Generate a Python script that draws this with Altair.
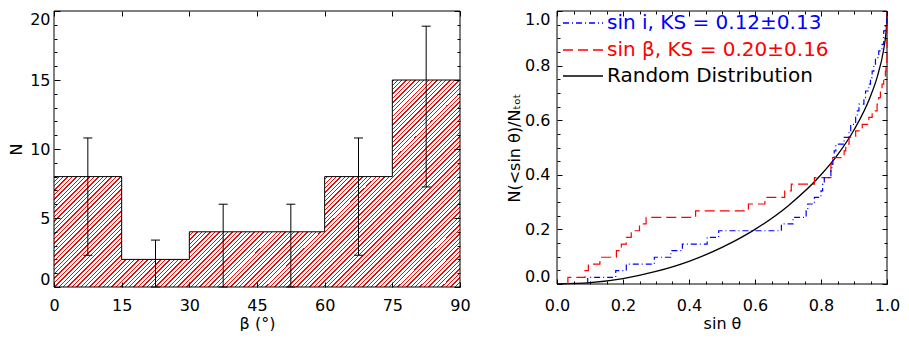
import altair as alt
import pandas as pd

FONT = "DejaVu Sans"

# ---------------- left panel data (histogram of beta) ----------------
beta_edges = [0, 15, 30, 45, 60, 75, 90]
beta_counts = [8, 2, 4, 4, 8, 15]
err_x = [7.5, 22.5, 37.5, 52.5, 67.5, 82.5]
err_lo = [2.3, 0.0, 0.0, 0.0, 2.3, 7.25]
err_hi = [10.8, 3.4, 6.0, 6.0, 10.8, 18.9]
left_x_major = [0, 15, 30, 45, 60, 75, 90]
left_y_major = [0, 5, 10, 15, 20]
left_y_minor = [1, 2, 3, 4, 6, 7, 8, 9, 11, 12, 13, 14, 16, 17, 18, 19]

# ---------------- right panel data (cumulative distributions) ----------------
red_s = [0.033, 0.033, 0.085, 0.095, 0.13, 0.18, 0.195, 0.21, 0.225, 0.25, 0.27,
         0.42, 0.58, 0.63, 0.69, 0.71, 0.78, 0.83, 0.835, 0.87, 0.875, 0.885,
         0.905, 0.925, 0.945, 0.955, 0.97, 0.975, 0.98, 0.985, 0.99, 0.995, 0.997, 1.0]
red_n = [0.0, 0.024, 0.049, 0.073, 0.098, 0.122, 0.146, 0.171, 0.195, 0.220, 0.244,
         0.268, 0.293, 0.317, 0.341, 0.366, 0.390, 0.439, 0.463, 0.488, 0.512, 0.537,
         0.561, 0.585, 0.610, 0.634, 0.659, 0.683, 0.707, 0.732, 0.756, 0.780, 0.805, 1.0]
blue_s = [0.093, 0.093, 0.178, 0.21, 0.295, 0.345, 0.38, 0.455, 0.49, 0.68, 0.715,
          0.755, 0.76, 0.78, 0.80, 0.805, 0.81, 0.83, 0.833, 0.836, 0.84, 0.845,
          0.87, 0.885, 0.89, 0.905, 0.91, 0.915, 0.93, 0.935, 0.945, 0.95, 0.955,
          0.96, 0.965, 0.975, 0.985, 0.99, 0.995, 1.0]
blue_n = [0.0, 0.024, 0.049, 0.073, 0.098, 0.122, 0.146, 0.171, 0.195, 0.220, 0.244,
          0.268, 0.293, 0.317, 0.341, 0.366, 0.390, 0.415, 0.439, 0.463, 0.488, 0.512,
          0.537, 0.561, 0.585, 0.610, 0.634, 0.659, 0.683, 0.707, 0.732, 0.756, 0.780,
          0.805, 0.829, 0.854, 0.878, 0.927, 0.951, 1.0]
rand_s = [0.0, 0.1, 0.2, 0.3, 0.4, 0.5, 0.6, 0.7, 0.8, 0.85, 0.9, 0.95, 0.97, 0.99, 0.995, 0.999, 1.0]
rand_n = [0.0, 0.005, 0.020, 0.046, 0.083, 0.134, 0.200, 0.286, 0.400, 0.473, 0.564, 0.688,
          0.757, 0.859, 0.900, 0.955, 1.0]
right_major = [0.0, 0.2, 0.4, 0.6, 0.8, 1.0]
right_minor = [0.05, 0.1, 0.15, 0.25, 0.3, 0.35, 0.45, 0.5, 0.55, 0.65, 0.7, 0.75, 0.85, 0.9, 0.95]
legend_labels = ["sin i, KS = 0.12±0.13", "sin β, KS = 0.20±0.16", "Random Distribution"]
legend_colors = ["#0000ff", "#ff0000", "#000000"]
legend_dashes = [[6, 3, 1, 3], [10, 5], None]

# ---------------- layout / style ----------------
LW, LH = 406, 276
RW, RH = 330, 273
HATCH = "#ff0000"
FS = 16


def axis_lab(orient, values, title, tick, lpad, tpad, fmt, flush):
    return alt.Axis(orient=orient, values=values, title=title, format=fmt,
                    offset=-tick, tickSize=tick, tickColor="black", tickWidth=1,
                    domain=False, grid=False, labels=True, labelFont=FONT,
                    labelFontSize=FS, labelColor="black", labelPadding=lpad,
                    labelFlush=flush, labelAngle=0, labelOverlap=False,
                    titleFont=FONT, titleFontSize=FS, titleFontWeight="normal",
                    titleColor="black", titlePadding=tpad, minExtent=0, zindex=1)


def axis_tick(orient, values, tick, offset):
    # inward-pointing tick marks: the axis line is pushed into the plot by `offset`
    return alt.Axis(orient=orient, values=values, title=None, offset=offset,
                    tickSize=tick, tickColor="black", tickWidth=1, domain=False,
                    grid=False, labels=False, minExtent=0, zindex=1)


# hatch pattern made from a striped linear gradient over the histogram bbox
H_area = max(beta_counts) / 20 * LH
W_area = LW
r = H_area / W_area
k = (1 + r) / (1 + r * r)
span = W_area + H_area
period, lw = 4.4, 1.3
stops = []
pos = 0.0
while pos < span:
    a = pos / span
    b = min((pos + lw) / span, 1.0)
    stops += [alt.GradientStop(color="white", offset=a), alt.GradientStop(color=HATCH, offset=a),
              alt.GradientStop(color=HATCH, offset=b), alt.GradientStop(color="white", offset=b)]
    pos += period
grad = alt.LinearGradient(gradient="linear", stops=stops, x1=0, y1=0, x2=k, y2=k * r)

# ---------------- left panel ----------------
hist = pd.DataFrame({"beta": beta_edges, "n": beta_counts + [beta_counts[-1]]})
errd = pd.DataFrame({"x": err_x, "lo": err_lo, "hi": err_hi})
capd = pd.DataFrame({"x": err_x + err_x, "y": err_lo + err_hi})
one = pd.DataFrame({"a": [0]})

lxs = alt.Scale(domain=[0, 90], nice=False, zero=False)
lys = alt.Scale(domain=[0, 20], nice=False)

area = alt.Chart(hist).mark_area(interpolate="step-after", fill=grad, opacity=1).encode(
    x=alt.X("beta:Q", scale=lxs, axis=axis_lab("bottom", left_x_major, "β (°)", 5, 10, 2, "d", False)),
    y=alt.Y("n:Q", scale=lys, axis=axis_lab("left", left_y_major, "N", 6, 4, 5, "d", True)),
)
frame_l = alt.Chart(one).mark_rect(filled=False, stroke="black", strokeWidth=1).encode(
    x=alt.value(0), x2=alt.value(LW), y=alt.value(0), y2=alt.value(LH))
outline = alt.Chart(hist).mark_line(interpolate="step-after", color="black", strokeWidth=1).encode(
    x=alt.X("beta:Q", scale=lxs, axis=axis_tick("bottom", left_x_major, 5, -LH)),
    y=alt.Y("n:Q", scale=lys, axis=axis_tick("left", left_y_major, 6, -LW)),
)
rules = alt.Chart(errd).mark_rule(color="black", strokeWidth=1).encode(
    x=alt.X("x:Q", scale=lxs, axis=None),
    y=alt.Y("lo:Q", scale=lys, axis=axis_tick("left", left_y_minor, 3, -3)),
    y2="hi:Q",
)
caps = alt.Chart(capd).mark_tick(orient="horizontal", size=9, thickness=1, color="black", opacity=1).encode(
    x=alt.X("x:Q", scale=lxs, axis=None),
    y=alt.Y("y:Q", scale=lys, axis=axis_tick("left", left_y_minor, 3, -LW)),
)
left = alt.layer(area, frame_l, outline, rules, caps).resolve_axis(
    x="independent", y="independent").properties(width=LW, height=LH)

# ---------------- right panel ----------------
df_rand = pd.DataFrame({"s": rand_s, "n": rand_n})
df_red = pd.DataFrame({"s": red_s, "n": red_n, "i": list(range(len(red_s)))})
df_blue = pd.DataFrame({"s": blue_s, "n": blue_n, "i": list(range(len(blue_s)))})

rxs = alt.Scale(domain=[0, 1], nice=False, zero=False)
rys = alt.Scale(domain=[0, 1], nice=False, zero=False)

frame_r = alt.Chart(one).mark_rect(filled=False, stroke="black", strokeWidth=1).encode(
    x=alt.value(0), x2=alt.value(RW), y=alt.value(0), y2=alt.value(RH))
black = alt.Chart(df_rand).mark_line(interpolate="monotone", color="black", strokeWidth=1.3).encode(
    x=alt.X("s:Q", scale=rxs, axis=axis_lab("bottom", right_major, "sin θ", 5, 13, 2, ".1f", False)),
    y=alt.Y("n:Q", scale=rys, axis=axis_lab("left", right_major, "N(<sin θ)/Nₜₒₜ", 5, 7, 2, ".1f", True)),
)
red = alt.Chart(df_red).mark_line(interpolate="step-after", color="#ff0000", strokeWidth=1.2,
                                  strokeDash=[10, 5]).encode(
    x=alt.X("s:Q", scale=rxs, axis=axis_tick("bottom", right_minor, 3, -3)),
    y=alt.Y("n:Q", scale=rys, axis=axis_tick("left", right_minor, 3, -3)),
    order="i:Q",
)
blue = alt.Chart(df_blue).mark_line(interpolate="step-after", color="#0000ff", strokeWidth=1.2,
                                    strokeDash=[6, 3, 1, 3]).encode(
    x=alt.X("s:Q", scale=rxs, axis=axis_tick("bottom", right_major, 5, -RH)),
    y=alt.Y("n:Q", scale=rys, axis=axis_tick("left", right_major, 5, -RW)),
    order="i:Q",
)
hidden = alt.Chart(df_rand).mark_point(opacity=0).encode(
    x=alt.X("s:Q", scale=rxs, axis=axis_tick("bottom", right_minor, 3, -RH)),
    y=alt.Y("n:Q", scale=rys, axis=axis_tick("left", right_minor, 3, -RW)),
)

legend_layers = []
for i, (lab, col, dash) in enumerate(zip(legend_labels, legend_colors, legend_dashes)):
    yy = 12 + 27 * i if i < 2 else 65
    rk = dict(color=col, strokeWidth=1.5)
    if dash:
        rk["strokeDash"] = dash
    legend_layers.append(alt.Chart(one).mark_rule(**rk).encode(
        x=alt.value(6), x2=alt.value(46), y=alt.value(yy)))
    legend_layers.append(alt.Chart(one).mark_text(align="left", baseline="middle", font=FONT,
                                                  fontSize=20, color=col).encode(
        x=alt.value(50), y=alt.value(yy), text=alt.value(lab)))

right = alt.layer(frame_r, black, red, blue, hidden, *legend_layers).resolve_axis(
    x="independent", y="independent").properties(width=RW, height=RH)

chart = alt.hconcat(left, right, spacing=97, bounds="flush",
                    padding={"left": 0, "top": 0, "right": 0, "bottom": 0},
                    background="white").configure_view(strokeWidth=0)

chart.save("out.html", embed_options={"renderer": "svg", "actions": False})
